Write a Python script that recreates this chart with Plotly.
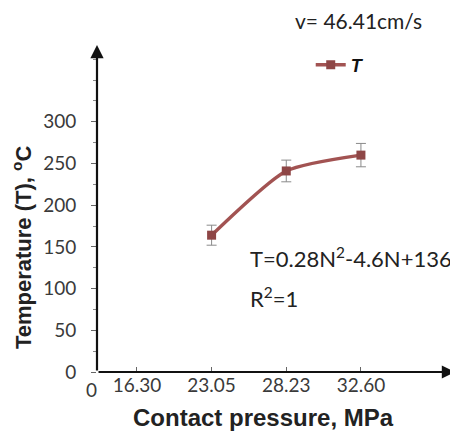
import plotly.graph_objects as go

# Data
pressure_ticks = ["16.30", "23.05", "28.23", "32.60"]
pressure = ["23.05", "28.23", "32.60"]
temperature = [164, 241, 260]
temp_err = [12, 13, 14]
y_ticks = [0, 50, 100, 150, 200, 250, 300]

line_col = "#a25352"
txt_col = "#3a3a3a"
font_main = "Lato, 'Open Sans', sans-serif"
font_bold = "'Liberation Sans', Arial, sans-serif"

fig = go.Figure()
fig.add_trace(go.Scatter(
    x=pressure, y=temperature, name="<b><i>T</i></b>",
    mode="lines+markers",
    line=dict(color=line_col, width=3.5, shape="spline", smoothing=0.6),
    marker=dict(color="#8e4646", size=9, symbol="square"),
    error_y=dict(type="data", array=temp_err, color="#8a8a8a", thickness=1, width=5),
))

# page body has an 8px margin, so the figure is 8px smaller than the window
fig.update_layout(
    width=450, height=424,
    margin=dict(l=89, r=3, t=37, b=60, autoexpand=False),
    paper_bgcolor="white", plot_bgcolor="white",
    showlegend=True,
    legend=dict(x=0.597, y=0.939, xanchor="left", yanchor="middle",
                font=dict(family=font_bold, size=18, color="#111"),
                bgcolor="rgba(0,0,0,0)", itemwidth=30),
    xaxis=dict(
        type="category", categoryorder="array", categoryarray=pressure_ticks,
        range=[-0.535, 4.26], showgrid=False, zeroline=False, showline=False,
        automargin=False,
        ticks="inside", ticklen=5, tickcolor="#666",
        tickfont=dict(family=font_main, size=19, color=txt_col),
    ),
    yaxis=dict(
        range=[0, 392], tickvals=y_ticks, showgrid=False, zeroline=False, showline=False,
        automargin=False,
        ticks="outside", ticklen=5, tickcolor="#666", ticklabelstandoff=11,
        minor=dict(dtick=25, ticks="outside", ticklen=3, tickcolor="#888"),
        tickfont=dict(family=font_main, size=19, color=txt_col),
    ),
    annotations=[
        # y axis with arrow
        dict(xref="paper", yref="paper", x=0, y=1, ax=0, ay=327, axref="pixel", ayref="pixel",
             showarrow=True, arrowhead=2, arrowsize=1.2, arrowwidth=2.2, arrowcolor="#111", text=""),
        # x axis with arrow
        dict(xref="paper", yref="paper", x=1, y=0, ax=-358, ay=0, axref="pixel", ayref="pixel",
             showarrow=True, arrowhead=2, arrowsize=1.2, arrowwidth=2.2, arrowcolor="#111", text=""),
        dict(xref="paper", yref="paper", x=-0.014, y=-0.055, xanchor="center", yanchor="middle",
             text="0", showarrow=False, font=dict(family=font_main, size=19, color=txt_col)),
        dict(xref="paper", yref="paper", x=0.464, y=-0.138, xanchor="center", yanchor="middle",
             text="<b>Contact pressure, MPa</b>", showarrow=False,
             font=dict(family=font_bold, size=24, color="#222")),
        dict(xref="paper", yref="paper", x=-0.2095, y=0.382, xanchor="center", yanchor="middle",
             textangle=-90, text="<b>Temperature (T), <sup>o</sup>C</b>", showarrow=False,
             font=dict(family=font_bold, size=22, color="#222")),
        dict(xref="paper", yref="paper", x=0.547, y=1.076, xanchor="left", yanchor="middle",
             text="v= 46.41cm/s", showarrow=False, font=dict(family=font_main, size=21, color="#222")),
        dict(xref="paper", yref="paper", x=0.422, y=0.349, xanchor="left", yanchor="middle",
             text="T=0.28N<sup>2</sup>-4.6N+136", showarrow=False,
             font=dict(family=font_main, size=22, color="#222")),
        dict(xref="paper", yref="paper", x=0.422, y=0.229, xanchor="left", yanchor="middle",
             text="R<sup>2</sup>=1", showarrow=False,
             font=dict(family=font_main, size=22, color="#222")),
    ],
)

fig.write_html("out.html")
